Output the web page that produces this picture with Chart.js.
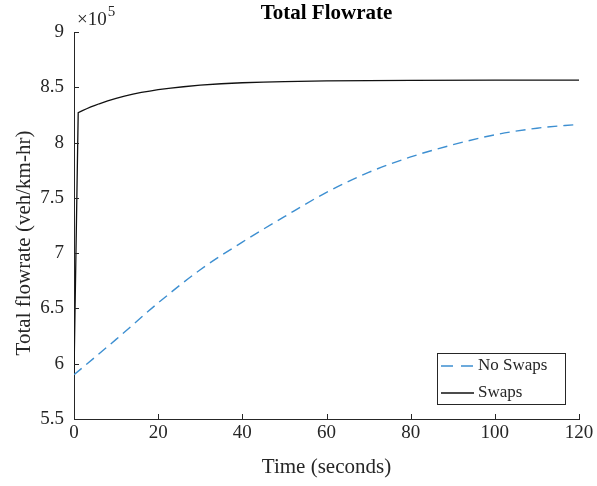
<!DOCTYPE html>
<html>
<head>
<meta charset="utf-8">
<script src="https://cdn.jsdelivr.net/npm/chart.js@4"></script>
<style>
html,body{margin:0;padding:0;background:#fff;}
#wrap{width:597px;height:486px;position:relative;}
</style>
</head>
<body>
<div id="wrap"><canvas id="c" width="597" height="486"></canvas></div>
<script>
// ---- data (veh/km-hr) ----
const chartTitle = "Total Flowrate";
const xAxisLabel = "Time (seconds)";
const yAxisLabel = "Total flowrate (veh/km-hr)";
const seriesNames = ["No Swaps", "Swaps"];

const timeNoSwaps = [0, 10, 20, 30, 40, 50, 60, 70, 80, 90, 100, 110, 120];
const flowNoSwaps = [590000, 622000, 655000, 685000, 710000, 733000, 755000, 773000, 787000, 798000, 807000, 813000, 816500];

const timeSwaps = [0, 1, 2, 3, 4, 5, 6, 8, 10, 12, 14, 16, 18, 20, 23, 26, 30, 35, 40, 45, 50, 60, 70, 80, 100, 120];
const flowSwaps = [590000, 827000, 828900, 830600, 832200, 833700, 835100, 837700, 840000, 842000, 843800, 845300, 846600, 847800, 849300, 850500, 852000, 853200, 854100, 854700, 855200, 855800, 856100, 856300, 856500, 856500];

const xTicks = [0, 20, 40, 60, 80, 100, 120];
const yTicks = [550000, 600000, 650000, 700000, 750000, 800000, 850000, 900000];
const yExponent = 5;

const axisColor = "#262626";
const serif = "'Liberation Serif', 'Times New Roman', serif";

function pts(xs, ys){ return xs.map((x,i)=>({x:x, y:ys[i]})); }

const overlay = {
  id: 'overlay',
  afterDraw(chart){
    const ctx = chart.ctx;
    const xs = chart.scales.x, ys = chart.scales.y;
    const a = chart.chartArea;
    ctx.save();
    // inward ticks
    ctx.strokeStyle = axisColor;
    ctx.lineWidth = 1;
    ctx.beginPath();
    xTicks.forEach(v=>{
      const px = Math.round(xs.getPixelForValue(v)) + 0.5;
      ctx.moveTo(px, a.bottom); ctx.lineTo(px, a.bottom - 5);
    });
    yTicks.forEach(v=>{
      const py = Math.round(ys.getPixelForValue(v)) + 0.5;
      ctx.moveTo(a.left, py); ctx.lineTo(a.left + 5, py);
    });
    ctx.stroke();

    // title
    ctx.fillStyle = "#000";
    ctx.font = "bold 21px " + serif;
    ctx.textAlign = "center";
    ctx.textBaseline = "middle";
    ctx.fillText(chartTitle, (a.left + a.right)/2, 14);

    // axis labels
    ctx.fillStyle = axisColor;
    ctx.font = "21px " + serif;
    ctx.fillText(xAxisLabel, (a.left + a.right)/2, 467);
    ctx.save();
    ctx.translate(24, 243);
    ctx.rotate(-Math.PI/2);
    ctx.fillText(yAxisLabel, 0, 0);
    ctx.restore();

    // exponent
    ctx.textAlign = "left";
    ctx.textBaseline = "alphabetic";
    ctx.font = "19px " + serif;
    ctx.fillText("\u00d710", a.left + 3, 25);
    const w = ctx.measureText("\u00d710").width;
    ctx.font = "15px " + serif;
    ctx.fillText(String(yExponent), a.left + 3 + w + 1, 16);

    // legend
    const bx = a.right - 142, by = a.bottom - 66, bw = 128, bh = 51;
    ctx.fillStyle = "#fff";
    ctx.fillRect(bx, by, bw, bh);
    ctx.strokeStyle = axisColor;
    ctx.lineWidth = 1;
    ctx.strokeRect(bx + 0.5, by + 0.5, bw, bh);
    chart.data.datasets.forEach((ds, i)=>{
      const yy = by + 13 + i*27;
      ctx.strokeStyle = ds.borderColor;
      ctx.lineWidth = ds.borderWidth;
      ctx.setLineDash(ds.borderDash ? [12, 8] : []);
      ctx.beginPath();
      ctx.moveTo(bx + 4, yy); ctx.lineTo(bx + 37, yy);
      ctx.stroke();
      ctx.setLineDash([]);
      ctx.fillStyle = axisColor;
      ctx.font = "17px " + serif;
      ctx.textBaseline = "middle";
      ctx.fillText(ds.label, bx + 41, yy);
    });
    ctx.restore();
  }
};

new Chart(document.getElementById('c'), {
  type: 'scatter',
  data: {
    datasets: [
      { label: seriesNames[0], data: pts(timeNoSwaps, flowNoSwaps), showLine: true,
        borderColor: '#3d8fd1', borderWidth: 1.4, borderDash: [10, 6], pointRadius: 0,
        cubicInterpolationMode: 'monotone', fill: false },
      { label: seriesNames[1], data: pts(timeSwaps, flowSwaps), showLine: true,
        borderColor: '#111111', borderWidth: 1.3, pointRadius: 0,
        tension: 0, fill: false }
    ]
  },
  options: {
    responsive: false,
    animation: false,
    devicePixelRatio: 1,
    layout: { padding: { left: 0, right: 18, top: 32, bottom: 0 } },
    plugins: { legend: { display: false }, title: { display: false }, tooltip: { enabled: false } },
    scales: {
      x: {
        type: 'linear', min: 0, max: 120,
        afterBuildTicks(s){ s.ticks = xTicks.map(v=>({value:v})); },
        afterFit(s){ s.height = 67; },
        grid: { display: false, drawTicks: false },
        border: { display: true, color: axisColor, width: 1 },
        ticks: { color: axisColor, padding: 3, font: { family: serif, size: 19 }, maxRotation: 0,
                 callback: v => String(v) }
      },
      y: {
        type: 'linear', min: 550000, max: 900000,
        afterBuildTicks(s){ s.ticks = yTicks.map(v=>({value:v})); },
        afterFit(s){ s.width = 74; },
        grid: { display: false, drawTicks: false },
        border: { display: true, color: axisColor, width: 1 },
        ticks: { color: axisColor, padding: 10, font: { family: serif, size: 19 },
                 callback: v => String(v / Math.pow(10, yExponent)) }
      }
    }
  },
  plugins: [overlay]
});
</script>
</body>
</html>
